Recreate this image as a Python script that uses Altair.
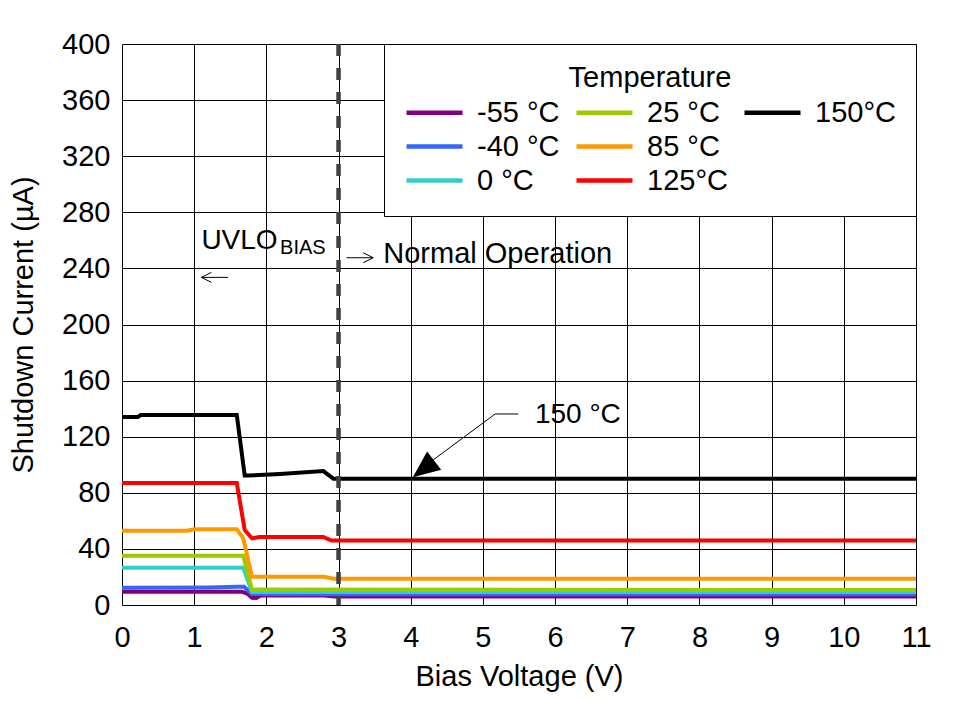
import altair as alt
import pandas as pd

# ---------------- data ----------------
temps = ["-55 °C", "-40 °C", "0 °C", "25 °C", "85 °C", "125°C", "150°C"]

v_m55 = [0, 1.66, 1.74, 1.80, 1.86, 1.92, 2.80, 2.95, 11]
i_m55 = [9.5, 9.5, 8.0, 5.2, 5.0, 6.8, 6.8, 6.0, 6.0]

v_m40 = [0, 1.2, 1.6, 1.69, 1.80, 2.80, 11]
i_m40 = [12.3, 12.5, 13.0, 13.0, 7.8, 7.7, 7.6]

v_0 = [0, 1.68, 1.80, 11]
i_0 = [26.6, 26.6, 9.2, 9.2]

v_25 = [0, 1.68, 1.80, 11]
i_25 = [35.2, 35.2, 11.0, 10.7]

v_85 = [0, 0.9, 1.0, 1.59, 1.68, 1.80, 2.80, 2.93, 11]
i_85 = [53.0, 53.0, 54.0, 54.0, 47.6, 20.2, 20.2, 18.8, 18.8]

v_125 = [0, 1.59, 1.70, 1.80, 1.90, 2.79, 2.90, 11]
i_125 = [87.0, 87.0, 53.5, 47.5, 48.5, 48.5, 46.0, 46.0]

v_150 = [0, 0.22, 0.26, 1.59, 1.70, 1.75, 2.19, 2.79, 2.93, 11]
i_150 = [134.0, 134.0, 135.5, 135.5, 92.3, 92.3, 93.4, 95.5, 90.0, 90.0]

series_v = [v_m55, v_m40, v_0, v_25, v_85, v_125, v_150]
series_i = [i_m55, i_m40, i_0, i_25, i_85, i_125, i_150]

x_ticks = [i * 0.5 for i in range(23)]
y_ticks = [0, 40, 80, 120, 160, 200, 240, 280, 320, 360, 400]

boundary_v = [3]

# annotation positions (data units)
uvlo_text = ["UVLO"]
uvlo_v = [1.10]
uvlo_i = [253.6]
bias_text = ["BIAS"]
bias_v = [2.19]
bias_i = [250.3]
normal_text = ["Normal Operation"]
normal_v = [3.62]
normal_i = [243.6]
label150_text = ["150 °C"]
label150_v = [5.72]
label150_i = [135.5]
leader_v = [4.30, 5.17, 5.49]
leader_i = [103.0, 136.2, 136.2]
head_v = [4.177]
head_i = [97.0]
# small direction arrows: shaft start/end and level
larrow_v = [1.10, 1.47]
larrow_i = [233.6, 233.6]
rarrow_v = [3.11, 3.48]
rarrow_i = [247.6, 247.6]

# ---------------- styles ----------------
colors = ["#800080", "#3366FF", "#33CCCC", "#99CC00", "#FF9900", "#FF0000", "#000000"]
widths = [4, 4, 4, 4, 4, 6, 5.5]
# legend: 3 columns filled top-to-bottom; a blank slot keeps 150°C alone in column 3
legend_domain = temps + [" "]
legend_colors = colors + ["transparent"]

FONT = "Liberation Sans"
FS = 29
FS_ANN = 28

rows = []
for t, vs, cs in zip(temps, series_v, series_i):
    for k, (v, c) in enumerate(zip(vs, cs)):
        rows.append({"temp": t, "V": v, "I": c, "k": k})
df = pd.DataFrame(rows)

xscale = alt.Scale(domain=[0, 11], nice=False, zero=False)
yscale = alt.Scale(domain=[0, 400], nice=False)

xaxis = alt.Axis(
    values=x_ticks,
    labelExpr="datum.value % 1 === 0 ? '' + datum.value : ''",
    title="Bias Voltage (V)",
    grid=True, gridColor="black", gridWidth=1, gridOpacity=1,
    ticks=False, domain=False,
    labelFontSize=FS, titleFontSize=FS, labelFont=FONT, titleFont=FONT,
    labelColor="black", titleColor="black", titleFontWeight="normal",
    labelFlush=False, labelOverlap=False, labelPadding=18,
    titleY=71, titleBaseline="middle",
)
yaxis = alt.Axis(
    values=y_ticks,
    title="Shutdown Current (µA)",
    grid=True, gridColor="black", gridWidth=1, gridOpacity=1,
    ticks=False, domain=False,
    labelFontSize=FS, titleFontSize=FS, labelFont=FONT, titleFont=FONT,
    labelColor="black", titleColor="black", titleFontWeight="normal",
    labelFlush=False, labelOverlap=False, labelPadding=12,
    titleX=-99, titleY=280.5, titleAngle=-90, titleAlign="center", titleBaseline="middle",
)

legend = alt.Legend(
    title="Temperature", orient="top-right", offset=0, columns=3,
    symbolType="M-1,0L3,0", symbolSize=784, symbolStrokeWidth=4.5,
    labelFontSize=FS, titleFontSize=FS, labelFont=FONT, titleFont=FONT,
    labelColor="black", titleColor="black", titleFontWeight="normal",
    titleAnchor="middle", titleAlign="center", titlePadding=3,
    labelOffset=40, columnPadding=7, rowPadding=2, padding=20,
    fillColor="white", strokeColor="black", cornerRadius=0,
    labelLimit=300,
)

lines = alt.Chart(df).mark_line(strokeJoin="miter").encode(
    x=alt.X("V:Q", scale=xscale, axis=xaxis),
    y=alt.Y("I:Q", scale=yscale, axis=yaxis),
    color=alt.Color("temp:N", scale=alt.Scale(domain=legend_domain, range=legend_colors), legend=legend),
    strokeWidth=alt.StrokeWidth("temp:O", scale=alt.Scale(domain=temps, range=widths), legend=None),
    order="k:Q",
)

rule = alt.Chart(pd.DataFrame({"V": boundary_v})).mark_rule(
    color="#404040", strokeWidth=4.5, strokeDash=[12, 12]
).encode(x="V:Q", y=alt.value(0), y2=alt.value(561))


def text_layer(txt, vs, cs, size, baseline="alphabetic"):
    d = pd.DataFrame({"t": txt, "V": vs, "I": cs})
    return alt.Chart(d).mark_text(
        align="left", baseline=baseline, font=FONT, fontSize=size, color="black"
    ).encode(x="V:Q", y="I:Q", text="t:N")


t_uvlo = text_layer(uvlo_text, uvlo_v, uvlo_i, FS_ANN)
t_bias = text_layer(bias_text, bias_v, bias_i, 20)
t_norm = text_layer(normal_text, normal_v, normal_i, FS)
t_150 = text_layer(label150_text, label150_v, label150_i, FS_ANN, "middle")


def polyline(vs, cs, width=1):
    d = pd.DataFrame({"V": vs, "I": cs, "k": list(range(len(vs)))})
    return alt.Chart(d).mark_line(color="black", strokeWidth=width).encode(
        x="V:Q", y="I:Q", order="k:Q"
    )


def chevron(v, c, path):
    d = pd.DataFrame({"V": [v], "I": [c]})
    return alt.Chart(d).mark_point(
        shape=path, filled=False, color="black", opacity=1, size=100, strokeWidth=1
    ).encode(x="V:Q", y="I:Q")


leader = polyline(leader_v, leader_i)
l_shaft = polyline(larrow_v, larrow_i)
l_head = chevron(larrow_v[0], larrow_i[0], "M2,-1L0,0L2,1")
r_shaft = polyline(rarrow_v, rarrow_i)
r_head = chevron(rarrow_v[-1], rarrow_i[-1], "M-2,-1L0,0L-2,1")

head = alt.Chart(pd.DataFrame({"V": head_v, "I": head_i})).mark_point(
    shape="M0,-1L0.85,1L-0.85,1Z", filled=True, color="black", opacity=1, size=729, angle=232
).encode(x="V:Q", y="I:Q")

chart = alt.layer(
    lines, rule, t_uvlo, t_bias, t_norm, t_150, leader, head,
    l_shaft, l_head, r_shaft, r_head
).properties(
    width=794, height=561,
    autosize=alt.AutoSizeParams(type="none"),
    padding={"left": 114, "top": 36, "right": 32, "bottom": 88},
).configure_view(
    stroke="black", strokeWidth=4.5, fill="white"
).configure_legend(
    strokeWidth=4
).configure(font=FONT, background="white")

chart.save("out.html", embed_options={"renderer": "svg", "actions": False})
